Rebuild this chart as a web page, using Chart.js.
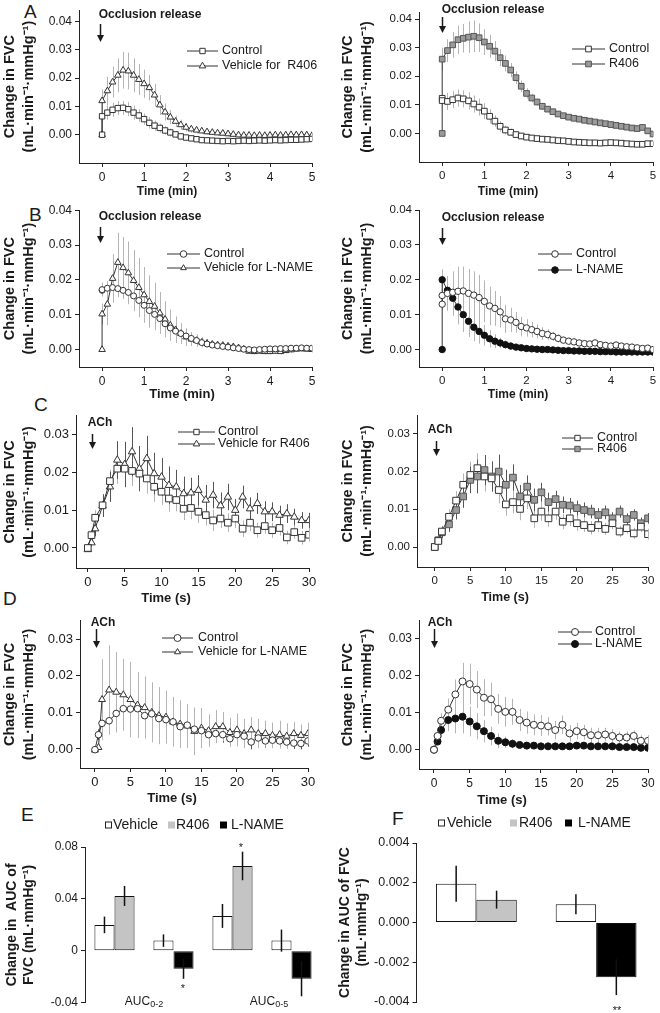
<!DOCTYPE html>
<html>
<head>
<meta charset="utf-8">
<title>Change in FVC</title>
<script src="https://cdn.jsdelivr.net/npm/chart.js@4.4.1/dist/chart.umd.min.js"></script>
<style>
  html, body { margin: 0; padding: 0; background: #fff; }
  body { position: relative; width: 660px; height: 1013px; overflow: hidden; font-family: "Liberation Sans", Arial, sans-serif; }
  canvas { position: absolute; }
  .tag { position: absolute; font-size: 19px; line-height: 19px; color: #1a1a1a; }
</style>
</head>
<body>
<div class="tag" style="left:24px;top:2px">A</div>
<div class="tag" style="left:29px;top:205px">B</div>
<div class="tag" style="left:34px;top:395px">C</div>
<div class="tag" style="left:3px;top:589px">D</div>
<div class="tag" style="left:21px;top:805px">E</div>
<div class="tag" style="left:392px;top:809px">F</div>

<canvas id="cA1"></canvas><canvas id="cA2"></canvas>
<canvas id="cB1"></canvas><canvas id="cB2"></canvas>
<canvas id="cC1"></canvas><canvas id="cC2"></canvas>
<canvas id="cD1"></canvas><canvas id="cD2"></canvas>
<canvas id="cE"></canvas><canvas id="cF"></canvas>

<script>
// ---- data ----
// occlusion release, minutes (two points at 0: baseline and first reading)
const occTime = [0, 0, 0.125, 0.25, 0.375, 0.5, 0.625, 0.75, 0.875, 1,
  1.125, 1.25, 1.375, 1.5, 1.625, 1.75, 1.875, 2, 2.125, 2.25,
  2.375, 2.5, 2.625, 2.75, 2.875, 3, 3.125, 3.25, 3.375, 3.5,
  3.625, 3.75, 3.875, 4, 4.125, 4.25, 4.375, 4.5, 4.625, 4.75,
  4.875, 5];

// A left
const occCtrlA1 = [0, 0.0065, 0.0078, 0.0088, 0.0094, 0.0095, 0.009, 0.0078, 0.0068, 0.0055,
  0.0042, 0.0032, 0.0024, 0.0015, 0.0008, 0.0001, -0.0006, -0.001, -0.0013, -0.0016,
  -0.0019, -0.002, -0.0021, -0.0022, -0.0023, -0.0022, -0.0023, -0.0022, -0.0021, -0.0022,
  -0.0021, -0.002, -0.0021, -0.002, -0.0019, -0.002, -0.0019, -0.0018, -0.0018, -0.0017,
  -0.0016, -0.0015];
const occCtrlA1Err = [0, 0.002, 0.0025, 0.0025, 0.0025, 0.0025, 0.0025, 0.0025, 0.0022, 0.002,
  0.002, 0.0018, 0.0016, 0.0015, 0.0014, 0.0012, 0.0012, 0.001, 0.001, 0.001,
  0.001, 0.001, 0.0009, 0.0009, 0.0009, 0.0009, 0.0009, 0.0008, 0.0008, 0.0008,
  0.0008, 0.0008, 0.0008, 0.0008, 0.0008, 0.0008, 0.0008, 0.0008, 0.0008, 0.0008,
  0.0008, 0.0008];
const occVehR406 = [0, 0.012, 0.0155, 0.0186, 0.021, 0.0228, 0.0225, 0.021, 0.0195, 0.018,
  0.0166, 0.014, 0.0105, 0.008, 0.0062, 0.0047, 0.0035, 0.0026, 0.002, 0.0016,
  0.0013, 0.001, 0.0008, 0.0006, 0.0005, 0.0003, 0.0001, -0.0001, -0.0002, -0.0002,
  -0.0003, -0.0002, -0.0003, -0.0002, -0.0001, -0.0002, -0.0001, 0, -0.0001, 0,
  -0.0001, -0.0003];
const occVehR406Err = [0, 0.004, 0.005, 0.0055, 0.006, 0.0065, 0.0065, 0.006, 0.0055, 0.005,
  0.0045, 0.004, 0.0035, 0.003, 0.0025, 0.002, 0.0018, 0.0015, 0.0013, 0.0012,
  0.001, 0.001, 0.001, 0.001, 0.001, 0.001, 0.001, 0.001, 0.001, 0.001,
  0.001, 0.001, 0.001, 0.001, 0.001, 0.001, 0.001, 0.001, 0.001, 0.001,
  0.001, 0.001];

// A right
const occCtrlA2 = [0.0123, 0.0115, 0.0112, 0.0118, 0.0124, 0.0121, 0.0114, 0.0103, 0.0092, 0.0078,
  0.006, 0.0043, 0.0025, 0.0012, 0.0004, -0.0004, -0.0009, -0.0013, -0.0016, -0.0018,
  -0.002, -0.0021, -0.0023, -0.0025, -0.0026, -0.0028, -0.003, -0.0031, -0.0032, -0.0033,
  -0.0033, -0.0034, -0.0033, -0.0032, -0.0033, -0.0034, -0.0036, -0.0037, -0.0038, -0.0038,
  -0.0036, -0.0036];
const occCtrlA2Err = [0, 0.002, 0.003, 0.003, 0.003, 0.003, 0.003, 0.003, 0.003, 0.0028,
  0.0025, 0.002, 0.0018, 0.0015, 0.0013, 0.0012, 0.0011, 0.001, 0.001, 0.001,
  0.001, 0.001, 0.0009, 0.0009, 0.0009, 0.0009, 0.0008, 0.0008, 0.0008, 0.0008,
  0.0008, 0.0008, 0.0008, 0.0008, 0.0008, 0.0008, 0.0008, 0.0008, 0.0008, 0.0008,
  0.0008, 0.0008];
const occR406 = [0, 0.026, 0.029, 0.031, 0.0328, 0.0333, 0.0337, 0.034, 0.0335, 0.032,
  0.0305, 0.0288, 0.0265, 0.0245, 0.0222, 0.0195, 0.0165, 0.014, 0.0124, 0.011,
  0.0095, 0.0085, 0.0076, 0.0068, 0.0062, 0.0057, 0.0053, 0.005, 0.0046, 0.0043,
  0.004, 0.0037, 0.0034, 0.0031, 0.0028, 0.0025, 0.0022, 0.0019, 0.0017, 0.0021,
  0.0009, -0.0002];
const occR406Err = [0, 0.004, 0.004, 0.0045, 0.005, 0.005, 0.0055, 0.0055, 0.005, 0.0045,
  0.004, 0.0035, 0.003, 0.0028, 0.0025, 0.0022, 0.002, 0.0018, 0.0015, 0.0013,
  0.0012, 0.001, 0.001, 0.001, 0.001, 0.001, 0.001, 0.001, 0.001, 0.001,
  0.001, 0.001, 0.001, 0.001, 0.001, 0.001, 0.001, 0.001, 0.001, 0.001,
  0.001, 0.001];

// B left
const occCtrlB1 = [0.017, 0.0172, 0.0176, 0.0178, 0.0175, 0.017, 0.0164, 0.0154, 0.0141, 0.0127,
  0.0112, 0.0101, 0.0089, 0.0074, 0.0062, 0.0053, 0.0046, 0.0039, 0.0032, 0.0026,
  0.002, 0.0016, 0.0013, 0.0011, 0.0009, 0.0007, 0.0005, 0.0003, 0.0001, 0,
  -0.0001, 0, 0.0001, 0.0002, 0.0002, 0.0003, 0.0003, 0.0004, 0.0004, 0.0005,
  0.0004, 0.0004];
const occCtrlB1Err = [0, 0.002, 0.002, 0.0025, 0.0025, 0.0025, 0.0025, 0.0025, 0.0025, 0.0022,
  0.002, 0.0018, 0.0015, 0.0013, 0.0012, 0.001, 0.001, 0.0009, 0.0008, 0.0008,
  0.0008, 0.0008, 0.0008, 0.0008, 0.0008, 0.0008, 0.0008, 0.0008, 0.0008, 0.0008,
  0.0008, 0.0008, 0.0008, 0.0008, 0.0008, 0.0008, 0.0008, 0.0008, 0.0008, 0.0008,
  0.0008, 0.0008];
const occVehLN = [0, 0.0102, 0.013, 0.0204, 0.025, 0.0235, 0.022, 0.0198, 0.0178, 0.0157,
  0.0138, 0.0124, 0.0105, 0.0087, 0.007, 0.0057, 0.0046, 0.0036, 0.003, 0.0026,
  0.0021, 0.0018, 0.0015, 0.0013, 0.0012, 0.001, 0.0008, 0.0005, 0.0001, -0.0005,
  -0.0006, -0.0005, -0.0006, -0.0006, -0.0005, -0.0006, -0.0003, -0.0001, 0.0001, 0.0002,
  0.0001, 0];
const occVehLNErr = [0, 0.003, 0.006, 0.007, 0.0085, 0.0088, 0.009, 0.0088, 0.0085, 0.008,
  0.0075, 0.0068, 0.006, 0.0052, 0.0045, 0.0038, 0.003, 0.0025, 0.002, 0.0018,
  0.0015, 0.0012, 0.001, 0.001, 0.0008, 0.0008, 0.0008, 0.0008, 0.0008, 0.0008,
  0.0008, 0.0008, 0.0008, 0.0008, 0.0008, 0.0008, 0.0008, 0.0008, 0.0008, 0.0008,
  0.0008, 0.0008];

// B right
const occCtrlB2 = [0.013, 0.0155, 0.0161, 0.0164, 0.0167, 0.0168, 0.0161, 0.0156, 0.0149, 0.0138,
  0.0125, 0.0118, 0.0108, 0.0088, 0.0085, 0.0078, 0.0066, 0.0062, 0.0057, 0.0052,
  0.0046, 0.0043, 0.0038, 0.0032, 0.0027, 0.0024, 0.0022, 0.0019, 0.0017, 0.0016,
  0.0019, 0.0014, 0.0012, 0.001, 0.0013, 0.001, 0.0008, 0.0007, 0.0005, 0.0003,
  0.0004, 0];
const occCtrlB2Err = [0, 0.004, 0.005, 0.006, 0.007, 0.007, 0.007, 0.0068, 0.0065, 0.006,
  0.0055, 0.005, 0.0045, 0.004, 0.0035, 0.003, 0.0028, 0.0025, 0.0022, 0.002,
  0.0018, 0.0015, 0.0013, 0.0012, 0.001, 0.001, 0.001, 0.001, 0.001, 0.001,
  0.001, 0.001, 0.001, 0.001, 0.001, 0.001, 0.001, 0.001, 0.001, 0.001,
  0.001, 0.001];
const occLN = [0, 0.02, 0.017, 0.0147, 0.0122, 0.01, 0.0081, 0.0064, 0.0052, 0.0041,
  0.0031, 0.0024, 0.0019, 0.0014, 0.001, 0.0007, 0.0005, 0.0003, 0.0002, 0.0001,
  0, 0, -0.0001, -0.0002, -0.0003, -0.0003, -0.0004, -0.0004, -0.0005, -0.0005,
  -0.0005, -0.0006, -0.0006, -0.0006, -0.0007, -0.0007, -0.0007, -0.0007, -0.0007, -0.0007,
  -0.0007, -0.0007];
const occLNErr = [0, 0.003, 0.004, 0.005, 0.005, 0.005, 0.0045, 0.004, 0.0035, 0.003,
  0.0025, 0.002, 0.0015, 0.0012, 0.001, 0.0008, 0.0006, 0.0005, 0.0004, 0.0004,
  0.0004, 0.0004, 0.0004, 0.0004, 0.0004, 0.0004, 0.0004, 0.0004, 0.0004, 0.0004,
  0.0004, 0.0004, 0.0004, 0.0004, 0.0004, 0.0004, 0.0004, 0.0004, 0.0004, 0.0004,
  0.0004, 0.0004];

// acetylcholine, seconds
const achTime = [0, 0.5, 1, 2, 3, 4, 5, 6, 7, 8, 9, 10, 11, 12, 13, 14, 15,
  16, 17, 18, 19, 20, 21, 22, 23, 24, 25, 26, 27, 28, 29, 30];

// C left
const achCtrlC1 = [0, 0.0034, 0.008, 0.0113, 0.0177, 0.021, 0.021, 0.0204, 0.0197, 0.0184, 0.0162,
  0.0149, 0.0131, 0.0127, 0.0104, 0.0106, 0.0096, 0.0087, 0.0073, 0.0078, 0.0067,
  0.0078, 0.0051, 0.0067, 0.0047, 0.0058, 0.0047, 0.0053, 0.0028, 0.0042, 0.0027, 0.0035];
const achCtrlC1Err = [0, 0.001, 0.002, 0.003, 0.003, 0.004, 0.004, 0.004, 0.004, 0.004, 0.004,
  0.0035, 0.0035, 0.003, 0.003, 0.003, 0.003, 0.0028, 0.0028, 0.0025, 0.0025,
  0.0025, 0.0022, 0.0022, 0.002, 0.002, 0.002, 0.002, 0.0018, 0.0018, 0.0018, 0.0018];
const achVehR406 = [-0.0004, 0.0014, 0.0051, 0.0112, 0.0162, 0.0233, 0.0221, 0.0255, 0.021, 0.0237, 0.0197,
  0.0188, 0.0166, 0.0162, 0.0144, 0.0146, 0.0153, 0.0127, 0.014, 0.0112, 0.0135,
  0.01, 0.0135, 0.0104, 0.0118, 0.0096, 0.0096, 0.0087, 0.0091, 0.0082, 0.0073, 0.0073];
const achVehR406Err = [0, 0.001, 0.002, 0.003, 0.004, 0.005, 0.006, 0.0065, 0.006, 0.006, 0.0055,
  0.005, 0.005, 0.0045, 0.0045, 0.004, 0.004, 0.004, 0.0035, 0.0035, 0.0035,
  0.003, 0.003, 0.003, 0.0028, 0.0028, 0.0025, 0.0025, 0.0025, 0.0022, 0.0022, 0.002];

// C right
const achCtrlC2 = [0, 0.0016, 0.0041, 0.008, 0.0123, 0.0165, 0.0191, 0.0209, 0.0187, 0.0182, 0.0151,
  0.0113, 0.0119, 0.0101, 0.0129, 0.0076, 0.0094, 0.0076, 0.0094, 0.0067, 0.0076,
  0.0063, 0.0058, 0.0051, 0.0058, 0.0048, 0.0063, 0.0041, 0.005, 0.0036, 0.0054, 0.0034];
const achCtrlC2Err = [0, 0.001, 0.0015, 0.002, 0.0025, 0.003, 0.0035, 0.004, 0.004, 0.0035, 0.0035,
  0.003, 0.003, 0.003, 0.0028, 0.0025, 0.0025, 0.0022, 0.0022, 0.002, 0.002,
  0.002, 0.0018, 0.0018, 0.0018, 0.0016, 0.0016, 0.0015, 0.0015, 0.0015, 0.0014, 0.0014];
const achR406 = [0, 0.0018, 0.0039, 0.006, 0.0098, 0.0134, 0.0178, 0.0187, 0.0204, 0.0187, 0.02,
  0.0165, 0.0184, 0.0134, 0.016, 0.0125, 0.0145, 0.0119, 0.0127, 0.0112, 0.011,
  0.0103, 0.0098, 0.0094, 0.0085, 0.0092, 0.0076, 0.0094, 0.0074, 0.0085, 0.0063, 0.0076];
const achR406Err = [0, 0.001, 0.0015, 0.002, 0.0025, 0.003, 0.0035, 0.0045, 0.004, 0.004, 0.0045,
  0.004, 0.0035, 0.003, 0.003, 0.003, 0.0025, 0.0025, 0.0022, 0.0022, 0.002,
  0.002, 0.002, 0.0018, 0.0018, 0.0018, 0.0016, 0.0016, 0.0015, 0.0015, 0.0015, 0.0014];

// D left
const achCtrlD1 = [-0.0002, 0.0039, 0.007, 0.0077, 0.0097, 0.011, 0.0109, 0.011, 0.0091, 0.0096, 0.0083,
  0.008, 0.0074, 0.0061, 0.0065, 0.0054, 0.005, 0.0039, 0.0042, 0.0039, 0.0028,
  0.0039, 0.0035, 0.0019, 0.003, 0.0022, 0.0024, 0.0022, 0.0019, 0.0016, 0.0015, 0.0022];
const achCtrlD1Err = [0, 0.0015, 0.002, 0.0025, 0.003, 0.003, 0.003, 0.003, 0.003, 0.003, 0.003,
  0.0028, 0.0028, 0.0028, 0.0035, 0.0045, 0.0025, 0.0025, 0.0022, 0.0022, 0.002,
  0.002, 0.002, 0.002, 0.0018, 0.0018, 0.0018, 0.0018, 0.0016, 0.0016, 0.0016, 0.0016];
const achVehLN = [-0.0003, 0.0004, 0.0135, 0.0161, 0.0155, 0.0148, 0.0135, 0.012, 0.0113, 0.01, 0.0091,
  0.0087, 0.0074, 0.0068, 0.0063, 0.0048, 0.0057, 0.005, 0.0061, 0.0061, 0.0045,
  0.0052, 0.0042, 0.0052, 0.0042, 0.0042, 0.0037, 0.0039, 0.0035, 0.0042, 0.0037, 0.0042];
const achVehLNErr = [0, 0.001, 0.011, 0.0122, 0.011, 0.0098, 0.0103, 0.009, 0.0085, 0.0082, 0.0078,
  0.0072, 0.0068, 0.0065, 0.006, 0.0065, 0.0055, 0.0045, 0.0045, 0.004, 0.004,
  0.0045, 0.004, 0.0035, 0.004, 0.0035, 0.0035, 0.0038, 0.0035, 0.0032, 0.003, 0.003];

// D right
const achCtrlD2 = [0, 0.0037, 0.0078, 0.0108, 0.0149, 0.0184, 0.0177, 0.0162, 0.014, 0.0136, 0.011,
  0.0102, 0.0102, 0.008, 0.0073, 0.0067, 0.0065, 0.0063, 0.0053, 0.0067, 0.0044,
  0.005, 0.0047, 0.0039, 0.0039, 0.0041, 0.0037, 0.0033, 0.0033, 0.0037, 0.0024, 0.0024];
const achCtrlD2Err = [0, 0.001, 0.002, 0.003, 0.004, 0.005, 0.0055, 0.005, 0.005, 0.0045, 0.004,
  0.004, 0.0035, 0.003, 0.003, 0.0028, 0.0028, 0.0025, 0.0025, 0.0025, 0.0022,
  0.0022, 0.002, 0.002, 0.002, 0.0018, 0.0018, 0.0016, 0.0016, 0.0015, 0.0015, 0.0015];
const achLN = [0, 0.0022, 0.0053, 0.008, 0.0084, 0.0089, 0.0076, 0.0063, 0.005, 0.0037, 0.0024,
  0.002, 0.0016, 0.0013, 0.0011, 0.0011, 0.0009, 0.0009, 0.0009, 0.0009, 0.0009,
  0.0011, 0.0011, 0.0009, 0.0009, 0.0009, 0.0009, 0.0007, 0.0007, 0.0007, 0.0005, 0.0005];
const achLNErr = [0, 0.001, 0.002, 0.003, 0.004, 0.0045, 0.004, 0.0035, 0.003, 0.0025, 0.002,
  0.0015, 0.0012, 0.001, 0.001, 0.0009, 0.0008, 0.0008, 0.0008, 0.0008, 0.0008,
  0.0008, 0.0008, 0.0008, 0.0007, 0.0007, 0.0007, 0.0007, 0.0006, 0.0006, 0.0006, 0.0006];

// E: AUC of occlusion response (pairs: R406 set / L-NAME set, 0-2 then 0-5 min)
const aucPairs = ['AUC0-2 R406', 'AUC0-2 L-NAME', 'AUC0-5 R406', 'AUC0-5 L-NAME'];
const aucVehicle = [0.020, 0.0079, 0.0269, 0.0079];
const aucVehicleErr = [0.0064, 0.0048, 0.0092, 0.0085];
const aucR406 = [0.0423, null, 0.0654, null];
const aucR406Err = [0.0077, null, 0.011, null];
const aucLName = [null, -0.0138, null, -0.0215];
const aucLNameErr = [null, 0.0077, null, 0.0135];

// F: AUC of ACh response
const achPairs = ['R406 set', 'L-NAME set'];
const achAucVehicle = [0.00195, 0.00092];
const achAucVehicleErr = [0.0009, 0.0005];
const achAucR406 = [0.00115, null];
const achAucR406Err = [0.00045, null];
const achAucLName = [null, -0.00275];
const achAucLNameErr = [null, 0.0009];

// ticks
const xTicksMin = [0, 1, 2, 3, 4, 5];
const xTicksSec = [0, 5, 10, 15, 20, 25, 30];
const yTicksOcc = [0, 0.01, 0.02, 0.03, 0.04];
const yTicksAch = [0, 0.01, 0.02, 0.03];
const yTicksE = [-0.04, 0, 0.04, 0.08];
const yTicksF = [-0.004, -0.002, 0, 0.002, 0.004];

// ---- drawing ----
const FONT = '"Liberation Sans", Arial, Helvetica, sans-serif';
const INK = '#1a1a1a';
Chart.defaults.font.family = FONT;
Chart.defaults.color = INK;

const FVC_TITLE = ['Change in FVC', '(mL\u00b7min\u207b\u00b9\u00b7mmHg\u207b\u00b9)'];

function drawMarker(ctx, style, x, y, r, fill, stroke) {
  ctx.beginPath();
  if (style === 'rect') {
    const s = r * Math.SQRT1_2;
    ctx.rect(x - s, y - s, 2 * s, 2 * s);
  } else if (style === 'triangle') {
    for (let k = 0; k < 3; k++) {
      const a = k * 2 * Math.PI / 3;
      const px = x + Math.sin(a) * r, py = y - Math.cos(a) * r;
      if (k) ctx.lineTo(px, py); else ctx.moveTo(px, py);
    }
    ctx.closePath();
  } else {
    ctx.arc(x, y, r, 0, 2 * Math.PI);
  }
  ctx.fillStyle = fill;
  ctx.fill();
  ctx.strokeStyle = stroke;
  ctx.lineWidth = 1;
  ctx.stroke();
}

// vertical SEM bars
const errorBars = {
  id: 'errorBars',
  beforeDatasetsDraw(chart) {
    if (chart.config.type !== 'line') return;
    const { ctx, scales: { x, y } } = chart;
    ctx.save();
    chart.data.datasets.forEach(ds => {
      if (!ds.errors) return;
      ctx.strokeStyle = ds.errColor;
      ctx.lineWidth = 1;
      ds.data.forEach((p, i) => {
        const e = ds.errors[i];
        if (!e) return;
        const px = Math.round(x.getPixelForValue(p.x)) + 0.5;
        ctx.beginPath();
        ctx.moveTo(px, y.getPixelForValue(p.y + e));
        ctx.lineTo(px, y.getPixelForValue(p.y - e));
        ctx.stroke();
      });
    });
    ctx.restore();
  },
  afterDatasetsDraw(chart) {
    if (chart.config.type !== 'bar') return;
    const { ctx, scales: { y } } = chart;
    ctx.save();
    ctx.strokeStyle = '#111';
    ctx.lineWidth = 1.5;
    chart.data.datasets.forEach((ds, di) => {
      const meta = chart.getDatasetMeta(di);
      ds.data.forEach((v, i) => {
        const e = ds.errors[i];
        if (v == null || !e) return;
        const bx = meta.data[i].x;
        ctx.beginPath();
        ctx.moveTo(bx, y.getPixelForValue(v + e));
        ctx.lineTo(bx, y.getPixelForValue(v - e));
        ctx.stroke();
      });
    });
    ctx.restore();
  }
};

// texts, arrows and legends placed in page coordinates
const decorSpecs = {};
const decor = {
  id: 'decor',
  afterDraw(chart) {
    const p = decorSpecs[chart.canvas.id];
    if (!p) return;
    const ctx = chart.ctx, ox = p.rect.x, oy = p.rect.y;
    ctx.save();
    ctx.fillStyle = INK;
    ctx.strokeStyle = INK;
    ctx.textBaseline = 'middle';
    (p.texts || []).forEach(t => {
      ctx.font = t.font;
      ctx.textAlign = t.align || 'center';
      ctx.fillText(t.text, t.x - ox, t.y - oy);
    });
    if (p.arrow) {
      const a = p.arrow, x = a.x - ox + 0.5;
      ctx.lineWidth = 1.5;
      ctx.beginPath();
      ctx.moveTo(x, a.y1 - oy);
      ctx.lineTo(x, a.y2 - oy - 4);
      ctx.stroke();
      ctx.beginPath();
      ctx.moveTo(x - 3.5, a.y2 - oy - 7);
      ctx.lineTo(x + 3.5, a.y2 - oy - 7);
      ctx.lineTo(x, a.y2 - oy);
      ctx.closePath();
      ctx.fill();
    }
    if (p.legend) {
      const L = p.legend;
      chart.data.datasets.forEach((ds, i) => {
        const y = L.rows[i] - oy;
        ctx.strokeStyle = ds.borderColor;
        ctx.lineWidth = 1;
        ctx.beginPath();
        ctx.moveTo(L.x1 - ox, y);
        ctx.lineTo(L.x2 - ox, y);
        ctx.stroke();
        drawMarker(ctx, ds.pointStyle, (L.x1 + L.x2) / 2 - ox, y, L.r, ds.pointBackgroundColor, ds.pointBorderColor);
        ctx.font = L.font;
        ctx.textAlign = 'left';
        ctx.fillStyle = INK;
        ctx.fillText(ds.label, L.tx - ox, y);
      });
    }
    if (p.keys) {
      const K = p.keys;
      K.items.forEach((it, i) => {
        const ds = chart.data.datasets[i];
        ctx.fillStyle = ds.backgroundColor;
        ctx.fillRect(it.sx - ox, K.y - oy - K.size / 2, K.size, K.size);
        if (ds.backgroundColor === '#ffffff') {
          ctx.strokeStyle = '#222';
          ctx.lineWidth = 1;
          ctx.strokeRect(it.sx - ox + 0.5, K.y - oy - K.size / 2 + 0.5, K.size - 1, K.size - 1);
        }
        ctx.fillStyle = INK;
        ctx.font = K.font;
        ctx.textAlign = 'left';
        ctx.fillText(ds.label, it.tx - ox, K.y - oy);
      });
    }
    (p.subLabels || []).forEach(s => {
      ctx.font = '12px ' + FONT;
      const w1 = ctx.measureText(s.main).width;
      ctx.font = '9px ' + FONT;
      const w2 = ctx.measureText(s.sub).width;
      const x0 = s.x - ox - (w1 + w2) / 2;
      ctx.textAlign = 'left';
      ctx.fillStyle = INK;
      ctx.font = '12px ' + FONT;
      ctx.fillText(s.main, x0, s.y - oy);
      ctx.font = '9px ' + FONT;
      ctx.fillText(s.sub, x0 + w1, s.y - oy + 3);
    });
    ctx.restore();
  }
};

function place(id, r) {
  const cv = document.getElementById(id);
  cv.width = r.w;
  cv.height = r.h;
  cv.style.left = r.x + 'px';
  cv.style.top = r.y + 'px';
  return cv;
}

function yAxis(p, tickCb) {
  return {
    min: p.yMin, max: p.yMax,
    afterBuildTicks: s => { s.ticks = p.yTicks.map(v => ({ value: v })); },
    afterFit: s => { s.width = p.area.l - p.rect.x; },
    border: { color: '#222', width: 1 },
    grid: { drawOnChartArea: false, drawTicks: true, tickLength: 4, color: '#222' },
    ticks: { font: { size: p.tickSize }, color: INK, padding: 3, callback: tickCb },
    title: {
      display: true, text: p.yTitle, color: INK,
      font: { size: p.yTitleSize, weight: 'bold', lineHeight: p.yTitleLh / p.yTitleSize },
      padding: { top: p.yTitlePad, bottom: 0 }
    }
  };
}

function linePanel(p) {
  const cv = place(p.id, p.rect);
  decorSpecs[p.id] = p;
  return new Chart(cv, {
    type: 'line',
    data: {
      datasets: p.series.map(s => ({
        label: s.label,
        data: s.t.map((t, i) => ({ x: t, y: s.y[i] })),
        errors: s.err,
        errColor: s.errColor,
        borderColor: '#333',
        borderWidth: 1,
        tension: 0,
        pointStyle: s.marker,
        pointRadius: s.r,
        pointHoverRadius: s.r,
        pointBackgroundColor: s.fill,
        pointBorderColor: s.stroke,
        pointBorderWidth: 1
      }))
    },
    options: {
      responsive: false,
      animation: false,
      devicePixelRatio: 1,
      events: [],
      layout: { padding: { left: 0, top: p.area.t - p.rect.y, right: p.rect.x + p.rect.w - p.area.r, bottom: 0 } },
      plugins: { legend: { display: false }, tooltip: { enabled: false } },
      scales: {
        x: {
          type: 'linear', min: p.xMin, max: p.xMax,
          afterBuildTicks: s => { s.ticks = p.xTicks.map(v => ({ value: v })); },
          afterFit: s => { s.height = p.rect.y + p.rect.h - p.area.b; },
          border: { color: '#222', width: 1 },
          grid: { drawOnChartArea: false, drawTicks: true, tickLength: 4, color: '#222' },
          ticks: { font: { size: p.tickSize }, color: INK, padding: 3, maxRotation: 0, autoSkip: false, callback: v => String(v) }
        },
        y: yAxis(p, v => v.toFixed(2))
      }
    },
    plugins: [errorBars, decor]
  });
}

function barPanel(p) {
  const cv = place(p.id, p.rect);
  decorSpecs[p.id] = p;
  const common = { borderColor: '#111', borderWidth: 1, borderSkipped: false, skipNull: true,
    categoryPercentage: p.catPct, barPercentage: 1 };
  return new Chart(cv, {
    type: 'bar',
    data: {
      labels: p.labels,
      datasets: p.series.map(s => Object.assign({ label: s.label, data: s.y, errors: s.err, backgroundColor: s.fill }, common))
    },
    options: {
      responsive: false,
      animation: false,
      devicePixelRatio: 1,
      events: [],
      layout: { padding: { left: 0, top: p.area.t - p.rect.y, right: p.rect.x + p.rect.w - p.area.r, bottom: 0 } },
      plugins: { legend: { display: false }, tooltip: { enabled: false } },
      scales: {
        x: {
          type: 'category',
          afterFit: s => { s.height = p.rect.y + p.rect.h - p.area.b; },
          border: { display: false },
          grid: { display: false },
          ticks: { display: false }
        },
        y: yAxis(p, p.tickCb)
      }
    },
    plugins: [errorBars, decor]
  });
}

const WHITE = '#ffffff', GREY = '#9a9a9a', BLACK = '#111111', EDGE = '#333333';
const ERR_LIGHT = '#b4b4b4', ERR_DARK = '#555555';
const boldF = s => 'bold ' + s + 'px ' + FONT;
const regF = s => s + 'px ' + FONT;

// A left
linePanel({
  id: 'cA1', rect: { x: 0, y: 0, w: 330, h: 200 }, area: { l: 79, t: 7.5, r: 312, b: 163 },
  xMin: -0.55, xMax: 5, yMin: -0.01, yMax: 0.044, xTicks: xTicksMin, yTicks: yTicksOcc, tickSize: 12,
  yTitle: FVC_TITLE, yTitleSize: 14.5, yTitleLh: 19, yTitlePad: 0.5,
  series: [
    { label: 'Control', t: occTime, y: occCtrlA1, err: occCtrlA1Err, errColor: ERR_LIGHT, marker: 'rect', r: 3.8, fill: WHITE, stroke: EDGE },
    { label: 'Vehicle for  R406', t: occTime, y: occVehR406, err: occVehR406Err, errColor: ERR_LIGHT, marker: 'triangle', r: 3.8, fill: WHITE, stroke: EDGE }
  ],
  texts: [
    { text: 'Occlusion release', x: 150, y: 15, font: boldF(12) },
    { text: 'Time (min)', x: 167, y: 192, font: boldF(12) }
  ],
  arrow: { x: 100, y1: 24, y2: 42 },
  legend: { x1: 187, x2: 218, tx: 222, rows: [51, 66], r: 3.8, font: regF(12.5) }
});

// A right
linePanel({
  id: 'cA2', rect: { x: 330, y: 0, w: 330, h: 200 }, area: { l: 419, t: 12, r: 653, b: 162 },
  xMin: -0.55, xMax: 5, yMin: -0.01, yMax: 0.0425, xTicks: xTicksMin, yTicks: yTicksOcc, tickSize: 11.5,
  yTitle: FVC_TITLE, yTitleSize: 14.5, yTitleLh: 19, yTitlePad: 8.5,
  series: [
    { label: 'Control', t: occTime, y: occCtrlA2, err: occCtrlA2Err, errColor: ERR_LIGHT, marker: 'rect', r: 4, fill: WHITE, stroke: EDGE },
    { label: 'R406', t: occTime, y: occR406, err: occR406Err, errColor: ERR_LIGHT, marker: 'rect', r: 4, fill: GREY, stroke: '#555' }
  ],
  texts: [
    { text: 'Occlusion release', x: 493, y: 10, font: boldF(12) },
    { text: 'Time (min)', x: 508, y: 192, font: boldF(12) }
  ],
  arrow: { x: 442, y1: 17, y2: 33 },
  legend: { x1: 572, x2: 605, tx: 609, rows: [49, 64], r: 4, font: regF(12.5) }
});

// B left
linePanel({
  id: 'cB1', rect: { x: 0, y: 200, w: 330, h: 205 }, area: { l: 79, t: 210, r: 312, b: 367 },
  xMin: -0.55, xMax: 5, yMin: -0.005, yMax: 0.04, xTicks: xTicksMin, yTicks: yTicksOcc, tickSize: 12,
  yTitle: FVC_TITLE, yTitleSize: 14.5, yTitleLh: 19, yTitlePad: 0.5,
  series: [
    { label: 'Control', t: occTime, y: occCtrlB1, err: occCtrlB1Err, errColor: ERR_LIGHT, marker: 'circle', r: 3, fill: WHITE, stroke: EDGE },
    { label: 'Vehicle for L-NAME', t: occTime, y: occVehLN, err: occVehLNErr, errColor: ERR_LIGHT, marker: 'triangle', r: 3.8, fill: WHITE, stroke: EDGE }
  ],
  texts: [
    { text: 'Occlusion release', x: 150, y: 217, font: boldF(12) },
    { text: 'Time (min)', x: 182, y: 394, font: boldF(13) }
  ],
  arrow: { x: 100, y1: 227, y2: 243 },
  legend: { x1: 167, x2: 200, tx: 204, rows: [254, 268], r: 3.3, font: regF(12.5) }
});

// B right
linePanel({
  id: 'cB2', rect: { x: 330, y: 200, w: 330, h: 205 }, area: { l: 419, t: 210, r: 653, b: 367 },
  xMin: -0.55, xMax: 5, yMin: -0.005, yMax: 0.04, xTicks: xTicksMin, yTicks: yTicksOcc, tickSize: 11.5,
  yTitle: FVC_TITLE, yTitleSize: 14.5, yTitleLh: 19, yTitlePad: 8.5,
  series: [
    { label: 'Control', t: occTime, y: occCtrlB2, err: occCtrlB2Err, errColor: ERR_LIGHT, marker: 'circle', r: 3.2, fill: WHITE, stroke: EDGE },
    { label: 'L-NAME', t: occTime, y: occLN, err: occLNErr, errColor: ERR_LIGHT, marker: 'circle', r: 3.2, fill: BLACK, stroke: BLACK }
  ],
  texts: [
    { text: 'Occlusion release', x: 493, y: 218, font: boldF(12) },
    { text: 'Time (min)', x: 518, y: 395, font: boldF(12) }
  ],
  arrow: { x: 442, y1: 228, y2: 245 },
  legend: { x1: 538, x2: 572, tx: 576, rows: [254, 270], r: 3.3, font: regF(12.5) }
});

// C left
linePanel({
  id: 'cC1', rect: { x: 0, y: 405, w: 330, h: 205 }, area: { l: 76, t: 415, r: 309, b: 568 },
  xMin: -1.6, xMax: 30, yMin: -0.0053, yMax: 0.035, xTicks: xTicksSec, yTicks: yTicksAch, tickSize: 13,
  yTitle: FVC_TITLE, yTitleSize: 14.5, yTitleLh: 19, yTitlePad: 0,
  series: [
    { label: 'Control', t: achTime, y: achCtrlC1, err: achCtrlC1Err, errColor: ERR_LIGHT, marker: 'rect', r: 4.7, fill: WHITE, stroke: EDGE },
    { label: 'Vehicle for R406', t: achTime, y: achVehR406, err: achVehR406Err, errColor: ERR_DARK, marker: 'triangle', r: 4.3, fill: WHITE, stroke: EDGE }
  ],
  texts: [
    { text: 'ACh', x: 100, y: 423, font: boldF(12) },
    { text: 'Time (s)', x: 166, y: 598, font: boldF(13) }
  ],
  arrow: { x: 92, y1: 434, y2: 449 },
  legend: { x1: 178, x2: 215, tx: 218, rows: [432, 444], r: 3.8, font: regF(12.5) }
});

// C right
linePanel({
  id: 'cC2', rect: { x: 330, y: 405, w: 330, h: 205 }, area: { l: 417, t: 415, r: 648, b: 567 },
  xMin: -2.5, xMax: 30, yMin: -0.0053, yMax: 0.035, xTicks: xTicksSec, yTicks: yTicksAch, tickSize: 11.5,
  yTitle: FVC_TITLE, yTitleSize: 14.5, yTitleLh: 19, yTitlePad: 8.5,
  series: [
    { label: 'Control', t: achTime, y: achCtrlC2, err: achCtrlC2Err, errColor: ERR_LIGHT, marker: 'rect', r: 4.7, fill: WHITE, stroke: EDGE },
    { label: 'R406', t: achTime, y: achR406, err: achR406Err, errColor: ERR_DARK, marker: 'rect', r: 4.7, fill: GREY, stroke: '#555' }
  ],
  texts: [
    { text: 'ACh', x: 440, y: 430, font: boldF(12) },
    { text: 'Time (s)', x: 505, y: 598, font: boldF(12.5) }
  ],
  arrow: { x: 436, y1: 441, y2: 456 },
  legend: { x1: 562, x2: 593, tx: 597, rows: [438, 449], r: 3.8, font: regF(12.5) }
});

// D left
linePanel({
  id: 'cD1', rect: { x: 0, y: 610, w: 330, h: 200 }, area: { l: 80, t: 614, r: 308, b: 768 },
  xMin: -2.1, xMax: 30, yMin: -0.0052, yMax: 0.035, xTicks: xTicksSec, yTicks: yTicksAch, tickSize: 13,
  yTitle: FVC_TITLE, yTitleSize: 14.5, yTitleLh: 19, yTitlePad: 0,
  series: [
    { label: 'Control', t: achTime, y: achCtrlD1, err: achCtrlD1Err, errColor: ERR_DARK, marker: 'circle', r: 3.3, fill: WHITE, stroke: EDGE },
    { label: 'Vehicle for L-NAME', t: achTime, y: achVehLN, err: achVehLNErr, errColor: ERR_LIGHT, marker: 'triangle', r: 4, fill: WHITE, stroke: EDGE }
  ],
  texts: [
    { text: 'ACh', x: 103, y: 623, font: boldF(12) },
    { text: 'Time (s)', x: 172, y: 798, font: boldF(13) }
  ],
  arrow: { x: 96, y1: 629, y2: 648 },
  legend: { x1: 162, x2: 193, tx: 198, rows: [638, 652], r: 3.5, font: regF(12.5) }
});

// D right
linePanel({
  id: 'cD2', rect: { x: 330, y: 610, w: 330, h: 200 }, area: { l: 419, t: 614, r: 648, b: 769 },
  xMin: -2.1, xMax: 30, yMin: -0.0052, yMax: 0.0349, xTicks: xTicksSec, yTicks: yTicksAch, tickSize: 12,
  yTitle: FVC_TITLE, yTitleSize: 14.5, yTitleLh: 19, yTitlePad: 8.5,
  series: [
    { label: 'Control', t: achTime, y: achCtrlD2, err: achCtrlD2Err, errColor: ERR_LIGHT, marker: 'circle', r: 3.5, fill: WHITE, stroke: EDGE },
    { label: 'L-NAME', t: achTime, y: achLN, err: achLNErr, errColor: ERR_LIGHT, marker: 'circle', r: 3.5, fill: BLACK, stroke: BLACK }
  ],
  texts: [
    { text: 'ACh', x: 440, y: 623, font: boldF(12) },
    { text: 'Time (s)', x: 502, y: 800, font: boldF(13) }
  ],
  arrow: { x: 434, y1: 629, y2: 648 },
  legend: { x1: 558, x2: 592, tx: 595, rows: [632, 644], r: 3.5, font: regF(12.5) }
});

// E
barPanel({
  id: 'cE', rect: { x: 0, y: 810, w: 330, h: 203 }, area: { l: 85, t: 847, r: 321, b: 1005 },
  yMin: -0.04, yMax: 0.08, yTicks: yTicksE, tickSize: 12, catPct: 0.68,
  tickCb: v => (v === 0 ? '0' : v.toFixed(2)),
  yTitle: ['Change in  AUC of', 'FVC (mL\u00b7mmHg\u207b\u00b9)'], yTitleSize: 14, yTitleLh: 17, yTitlePad: 3.5,
  labels: aucPairs,
  series: [
    { label: 'Vehicle', y: aucVehicle, err: aucVehicleErr, fill: WHITE },
    { label: 'R406', y: aucR406, err: aucR406Err, fill: '#c4c4c4' },
    { label: 'L-NAME', y: aucLName, err: aucLNameErr, fill: '#000000' }
  ],
  keys: { y: 825, size: 7, font: regF(14), items: [{ sx: 105, tx: 113 }, { sx: 168, tx: 176 }, { sx: 220, tx: 231 }] },
  subLabels: [{ main: 'AUC', sub: '0-2', x: 144, y: 1002 }, { main: 'AUC', sub: '0-5', x: 269, y: 1002 }],
  texts: [
    { text: '*', x: 241, y: 848, font: regF(11) },
    { text: '*', x: 183, y: 989, font: regF(11) }
  ]
});

// F
barPanel({
  id: 'cF', rect: { x: 330, y: 810, w: 330, h: 203 }, area: { l: 416.5, t: 843, r: 656, b: 1002 },
  yMin: -0.004, yMax: 0.004, yTicks: yTicksF, tickSize: 12.5, catPct: 0.675,
  tickCb: v => v.toFixed(3),
  yTitle: ['Change in AUC of FVC', '(mL\u00b7mmHg\u207b\u00b9)'], yTitleSize: 14, yTitleLh: 17, yTitlePad: 6.5,
  labels: achPairs,
  series: [
    { label: 'Vehicle', y: achAucVehicle, err: achAucVehicleErr, fill: WHITE },
    { label: 'R406', y: achAucR406, err: achAucR406Err, fill: '#c4c4c4' },
    { label: 'L-NAME', y: achAucLName, err: achAucLNameErr, fill: '#000000' }
  ],
  keys: { y: 823, size: 7, font: regF(14), items: [{ sx: 438, tx: 447 }, { sx: 510, tx: 519 }, { sx: 565, tx: 578 }] },
  texts: [
    { text: '**', x: 617, y: 1011, font: regF(11) }
  ]
});
</script>
</body>
</html>
